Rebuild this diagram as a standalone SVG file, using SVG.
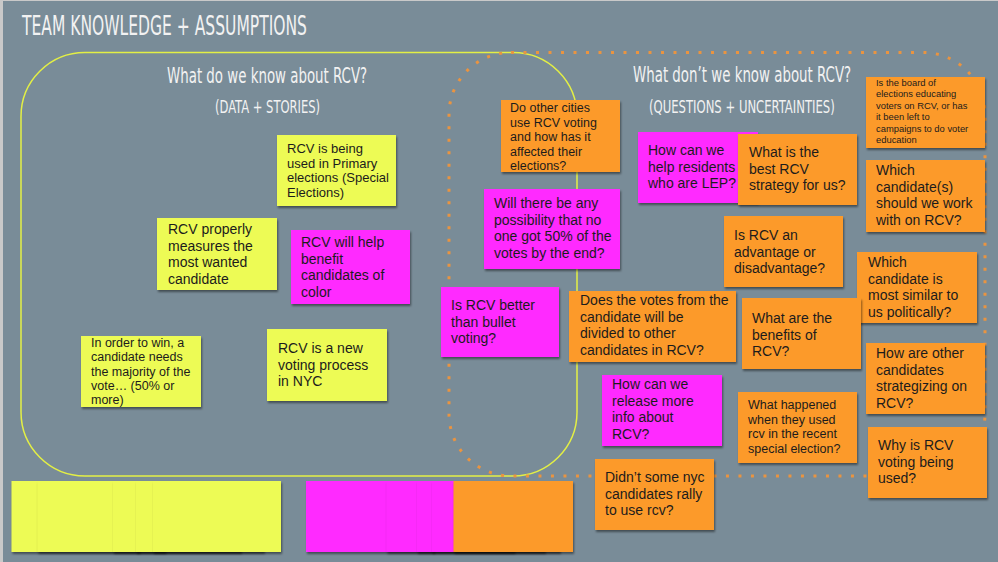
<svg xmlns="http://www.w3.org/2000/svg" width="998" height="562" viewBox="0 0 998 562">
<defs>
<filter id="sh" x="-10%" y="-10%" width="125%" height="135%">
<feDropShadow dx="1" dy="2" stdDeviation="1.3" flood-color="#000" flood-opacity="0.45"/>
</filter>
<style>
.y{fill:#edfb55;filter:url(#sh)}
.m{fill:#ff2aff;filter:url(#sh)}
.o{fill:#fc9a2a;filter:url(#sh)}
.t{font-family:"Liberation Sans",Arial,sans-serif;fill:#1c1c1c}
.h{font-family:"Liberation Sans Narrow","DejaVu Sans Condensed","Roboto Condensed",sans-serif;fill:#f2f2f2}
.s14{font-size:14px}.s13{font-size:13px}.s125{font-size:12.5px}.s10{font-size:9.4px}
</style>
</defs>
<rect x="0" y="0" width="998" height="562" fill="#798c98"/>
<line x1="1.5" y1="0" x2="1.5" y2="562" stroke="#c9c9c9" stroke-width="3"/>
<line x1="0" y1="0.5" x2="998" y2="0.5" stroke="#c9c9c9" stroke-width="1"/>

<g id="title">
<text class="h" transform="translate(22,35) scale(0.68,1)" x="0" y="0" font-size="26" textLength="419" lengthAdjust="spacingAndGlyphs">TEAM KNOWLEDGE + ASSUMPTIONS</text>
</g>

<g id="connectors">
<rect id="known-area" x="21" y="52.5" width="556" height="423.5" rx="64" fill="none" stroke="#e3ef45" stroke-width="1.5"/>
<rect id="unknown-area" x="449" y="52.5" width="536" height="423.5" rx="62" fill="none" stroke="#ea9440" stroke-width="3" stroke-dasharray="3 9.5"/>
</g>

<g id="headings">
<text class="h" transform="translate(167,83) scale(0.72,1)" x="0" y="0" font-size="21" textLength="278" lengthAdjust="spacingAndGlyphs">What do we know about RCV?</text>
<text class="h" transform="translate(215,113) scale(0.72,1)" x="0" y="0" font-size="17" textLength="146" lengthAdjust="spacingAndGlyphs">(DATA + STORIES)</text>
<text class="h" transform="translate(633,82) scale(0.72,1)" x="0" y="0" font-size="21" textLength="303" lengthAdjust="spacingAndGlyphs">What don’t we know about RCV?</text>
<text class="h" transform="translate(649,113) scale(0.72,1)" x="0" y="0" font-size="17" textLength="258" lengthAdjust="spacingAndGlyphs">(QUESTIONS + UNCERTAINTIES)</text>
</g>

<g id="stack-yellow">
<rect class="y" x="11.5" y="481" width="128" height="71"/>
<rect class="y" x="37.5" y="481" width="128" height="71"/>
<rect class="y" x="113" y="481" width="128" height="71"/>
<rect class="y" x="136" y="481" width="128" height="71"/>
<rect class="y" x="153" y="481" width="128" height="71"/>
</g>
<g id="stack-magenta-orange">
<rect class="m" x="306" y="481" width="128" height="71"/>
<rect class="m" x="386.5" y="481" width="128" height="71"/>
<rect class="m" x="417" y="481" width="128" height="71"/>
<rect class="m" x="432" y="481" width="128" height="71"/>
<rect class="o" x="453.5" y="481" width="119.5" height="71"/>
</g>

<g id="k1"><rect class="y" x="277" y="135" width="119" height="71"/>
<text class="t s13"><tspan x="287" y="153">RCV is being</tspan><tspan x="287" y="167.5">used in Primary</tspan><tspan x="287" y="182">elections (Special</tspan><tspan x="287" y="196.5">Elections)</tspan></text></g>

<g id="k2"><rect class="y" x="157" y="218" width="120" height="72"/>
<text class="t s14"><tspan x="168" y="234">RCV properly</tspan><tspan x="168" y="250.5">measures the</tspan><tspan x="168" y="267">most wanted</tspan><tspan x="168" y="283.5">candidate</tspan></text></g>

<g id="k3"><rect class="m" x="291" y="230" width="119" height="74"/>
<text class="t s14"><tspan x="301" y="247">RCV will help</tspan><tspan x="301" y="263.5">benefit</tspan><tspan x="301" y="280">candidates of</tspan><tspan x="301" y="296.5">color</tspan></text></g>

<g id="k4"><rect class="y" x="81" y="336" width="120" height="71"/>
<text class="t s125"><tspan x="91" y="346.5">In order to win, a</tspan><tspan x="91" y="361">candidate needs</tspan><tspan x="91" y="375.5">the majority of the</tspan><tspan x="91" y="389.5">vote… (50% or</tspan><tspan x="91" y="404">more)</tspan></text></g>

<g id="k5"><rect class="y" x="267" y="329" width="120" height="72"/>
<text class="t s14"><tspan x="278" y="353">RCV is a new</tspan><tspan x="278" y="369.5">voting process</tspan><tspan x="278" y="386">in NYC</tspan></text></g>

<g id="u1"><rect class="o" x="501" y="100" width="119" height="72"/>
<text class="t s125"><tspan x="510" y="112">Do other cities</tspan><tspan x="510" y="126.5">use RCV voting</tspan><tspan x="510" y="141">and how has it</tspan><tspan x="510" y="155.5">affected their</tspan><tspan x="510" y="170">elections?</tspan></text></g>

<g id="u2"><rect class="m" x="638" y="132" width="120" height="71"/>
<text class="t s14"><tspan x="648" y="155">How can we</tspan><tspan x="648" y="171.5">help residents</tspan><tspan x="648" y="188">who are LEP?</tspan></text></g>

<g id="u3"><rect class="o" x="738" y="134" width="119" height="71"/>
<text class="t s14"><tspan x="749" y="157">What is the</tspan><tspan x="749" y="173.5">best RCV</tspan><tspan x="749" y="190">strategy for us?</tspan></text></g>

<g id="u4"><rect class="o" x="866" y="77" width="119" height="71"/>
<text class="t s10"><tspan x="876" y="86">Is the board of</tspan><tspan x="876" y="97.4">elections educating</tspan><tspan x="876" y="108.8">voters on RCV, or has</tspan><tspan x="876" y="120.2">it been left to</tspan><tspan x="876" y="131.6">campaigns to do voter</tspan><tspan x="876" y="143">education</tspan></text></g>

<g id="u5"><rect class="o" x="866" y="160" width="119" height="72"/>
<text class="t s14"><tspan x="876" y="175">Which</tspan><tspan x="876" y="191.7">candidate(s)</tspan><tspan x="876" y="208.4">should we work</tspan><tspan x="876" y="225">with on RCV?</tspan></text></g>

<g id="u6"><rect class="m" x="484" y="189" width="136" height="80"/>
<text class="t s14"><tspan x="494" y="208">Will there be any</tspan><tspan x="494" y="224.7">possibility that no</tspan><tspan x="494" y="241.4">one got 50% of the</tspan><tspan x="494" y="258">votes by the end?</tspan></text></g>

<g id="u7"><rect class="o" x="724" y="216" width="119" height="71"/>
<text class="t s14"><tspan x="734" y="240">Is RCV an</tspan><tspan x="734" y="256.7">advantage or</tspan><tspan x="734" y="273.4">disadvantage?</tspan></text></g>

<g id="u8"><rect class="o" x="857" y="252" width="120" height="71"/>
<text class="t s14"><tspan x="868" y="267">Which</tspan><tspan x="868" y="283.5">candidate is</tspan><tspan x="868" y="300">most similar to</tspan><tspan x="868" y="316.5">us politically?</tspan></text></g>

<g id="u9"><rect class="m" x="441" y="287" width="118" height="70"/>
<text class="t s14"><tspan x="451" y="310">Is RCV better</tspan><tspan x="451" y="326.7">than bullet</tspan><tspan x="451" y="343.4">voting?</tspan></text></g>

<g id="u10"><rect class="o" x="569" y="291" width="167" height="71"/>
<text class="t s14"><tspan x="580" y="305">Does the votes from the</tspan><tspan x="580" y="321.7">candidate will be</tspan><tspan x="580" y="338.4">divided to other</tspan><tspan x="580" y="355">candidates in RCV?</tspan></text></g>

<g id="u11"><rect class="o" x="742" y="298" width="119" height="71"/>
<text class="t s14"><tspan x="752" y="323">What are the</tspan><tspan x="752" y="339.7">benefits of</tspan><tspan x="752" y="356.4">RCV?</tspan></text></g>

<g id="u12"><rect class="o" x="866" y="343" width="119" height="71"/>
<text class="t s14"><tspan x="876" y="358">How are other</tspan><tspan x="876" y="374.7">candidates</tspan><tspan x="876" y="391.4">strategizing on</tspan><tspan x="876" y="408">RCV?</tspan></text></g>

<g id="u13"><rect class="m" x="602" y="375" width="120" height="71"/>
<text class="t s14"><tspan x="612" y="389">How can we</tspan><tspan x="612" y="405.7">release more</tspan><tspan x="612" y="422.4">info about</tspan><tspan x="612" y="439">RCV?</tspan></text></g>

<g id="u14"><rect class="o" x="738" y="392" width="119" height="71"/>
<text class="t s125"><tspan x="748" y="409">What happened</tspan><tspan x="748" y="423.7">when they used</tspan><tspan x="748" y="438.4">rcv in the recent</tspan><tspan x="748" y="453">special election?</tspan></text></g>

<g id="u15"><rect class="o" x="595" y="459" width="119" height="71"/>
<text class="t s14"><tspan x="605" y="482">Didn’t some nyc</tspan><tspan x="605" y="498.7">candidates rally</tspan><tspan x="605" y="515.4">to use rcv?</tspan></text></g>

<g id="u16"><rect class="o" x="868" y="427" width="119" height="71"/>
<text class="t s14"><tspan x="878" y="450">Why is RCV</tspan><tspan x="878" y="466.7">voting being</tspan><tspan x="878" y="483.4">used?</tspan></text></g>
</svg>
